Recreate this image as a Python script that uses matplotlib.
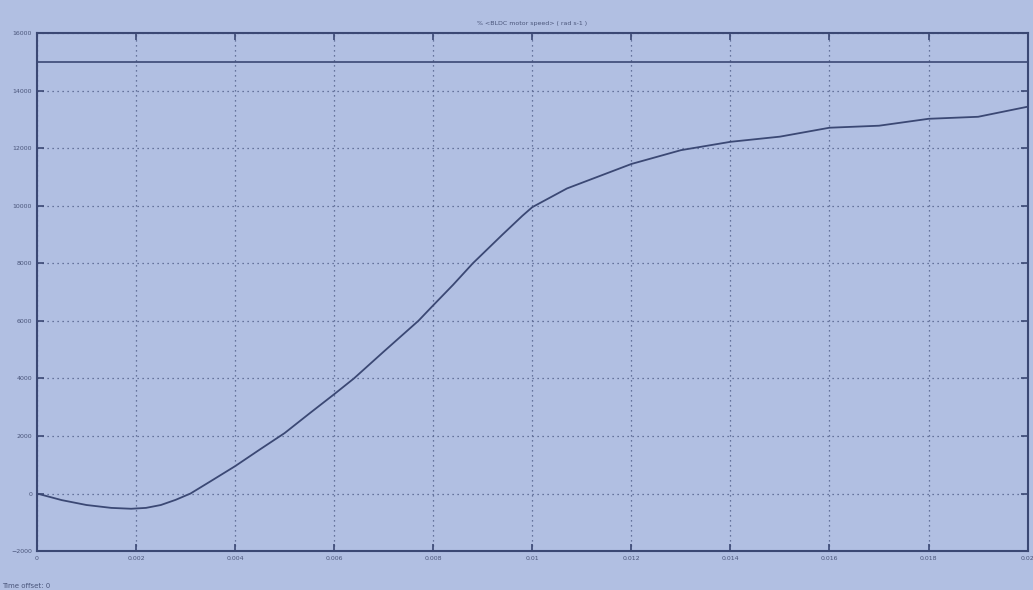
import matplotlib.pyplot as plt

# speed trace
time = [0, 0.0005, 0.001, 0.0015, 0.0019, 0.0022, 0.0025, 0.0028, 0.0031, 0.0035, 0.004,
        0.0045, 0.005, 0.0055, 0.006, 0.0064, 0.007, 0.0077, 0.008, 0.0084, 0.0088,
        0.0094, 0.0098, 0.01, 0.0107, 0.012, 0.013, 0.014, 0.015, 0.016, 0.017,
        0.018, 0.019, 0.02]
speed = [0, -230, -400, -500, -530, -500, -400, -220, 0, 420, 950,
         1530, 2100, 2780, 3450, 4000, 4930, 6000, 6540, 7250, 8000,
         9000, 9650, 9950, 10600, 11450, 11930, 12220, 12400, 12710, 12780,
         13020, 13090, 13440]
ref_speed = 15000

xticks = [0, 0.002, 0.004, 0.006, 0.008, 0.01, 0.012, 0.014, 0.016, 0.018, 0.02]
xlabels = ["0", "0.002", "0.004", "0.006", "0.008", "0.01", "0.012", "0.014", "0.016", "0.018", "0.02"]
yticks = [-2000, 0, 2000, 4000, 6000, 8000, 10000, 12000, 14000, 16000]

bg = "#b1bfe2"
dark = "#3b4874"

fig = plt.figure(figsize=(10.33, 5.9), dpi=100, facecolor=bg)
ax = fig.add_axes([0.0358, 0.066, 0.959, 0.878], facecolor=bg)

ax.plot(time, speed, color=dark, lw=1.3)
ax.axhline(ref_speed, color=dark, lw=1.2)

ax.set_xlim(0, 0.02)
ax.set_ylim(-2000, 16000)
ax.set_xticks(xticks)
ax.set_xticklabels(xlabels)
ax.set_yticks(yticks)
ax.tick_params(direction="in", length=5, width=1.2, colors=dark, labelsize=4.5,
               top=True, right=True, labelcolor="#4a557a")
ax.grid(True, color="#4d5a85", linestyle=(0, (1, 3)), lw=0.9)
for s in ax.spines.values():
    s.set_color(dark)
    s.set_linewidth(1.5)

ax.set_title("% <BLDC motor speed> ( rad s-1 )", fontsize=4.5, color="#4a557a", pad=6)
fig.text(0.002, 0.003, "Time offset: 0", fontsize=5, color="#4a557a")

fig.savefig("out.png", dpi=100, facecolor=bg)
